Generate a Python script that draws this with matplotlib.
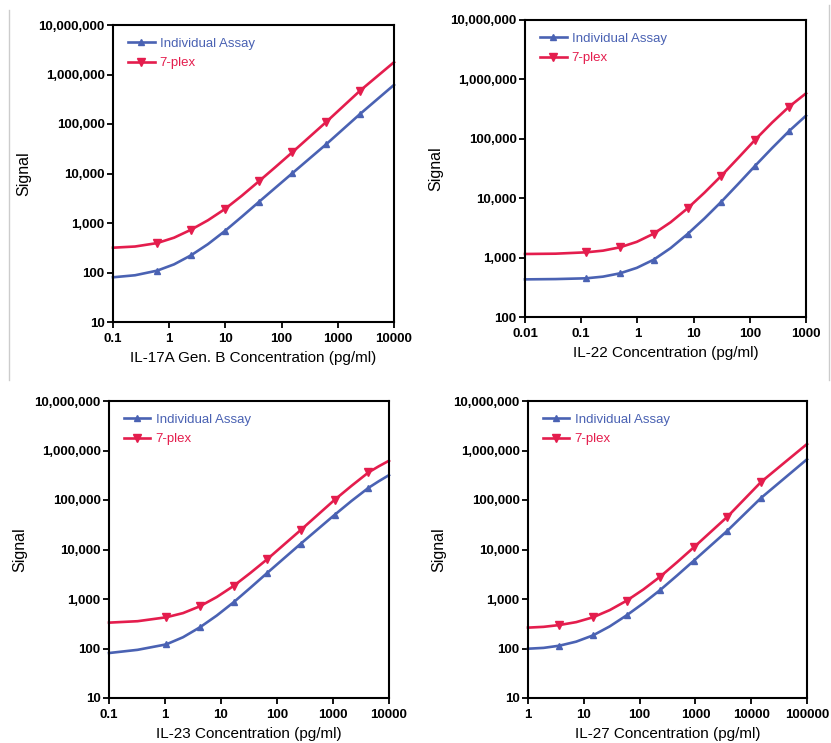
import matplotlib
matplotlib.use("Agg")
from matplotlib import pyplot as plt
from matplotlib.ticker import FuncFormatter, FixedLocator, NullLocator
from matplotlib.lines import Line2D

## values
# fitted curves
il17_cx      = [0.1, 0.247, 0.61, 1.22, 2.44, 4.89, 9.77, 19.5, 39.1, 78, 156, 625, 2500, 10000]
il17_single  = [80, 88, 109, 146, 222, 374, 687, 1334, 2643, 5180, 10170, 39150, 160000, 616000]
il17_plex    = [317, 335, 393, 505, 731, 1135, 1910, 3540, 6900, 13550, 27000, 110400, 473000, 1770000]
# measured points (markers)
il17_mx        = [0.61, 2.44, 9.77, 39.1, 156, 625, 2500]
il17_single_pt = [109, 222, 687, 2643, 10170, 39150, 160000]
il17_plex_pt   = [393, 731, 1910, 6900, 27000, 110400, 473000]

il22_cx      = [0.01, 0.035, 0.122, 0.244, 0.488, 0.976, 1.95, 3.9, 7.81, 15.6, 31.25, 62.5, 125, 250, 500, 1000]
il22_single  = [430, 435, 448, 478, 543, 672, 923, 1445, 2495, 4560, 8750, 17460, 35300, 70000, 135000, 245000]
il22_plex    = [1150, 1164, 1227, 1309, 1489, 1842, 2529, 3936, 6750, 12390, 23900, 47800, 96700, 188000, 347000, 582000]
il22_mx        = [0.122, 0.488, 1.95, 7.81, 31.25, 125, 500]
il22_single_pt = [448, 543, 923, 2495, 8750, 35300, 135000]
il22_plex_pt   = [1227, 1489, 2529, 6750, 23900, 96700, 347000]

il23_cx      = [0.1, 0.324, 1.05, 2.1, 4.2, 8.4, 16.8, 33.5, 67, 268, 1070, 2150, 4300, 6550, 10000]
il23_single  = [81, 94, 121, 169, 268, 463, 859, 1687, 3370, 13200, 50200, 96100, 176000, 239000, 318000]
il23_plex    = [333, 356, 427, 519, 713, 1096, 1837, 3365, 6370, 25000, 101000, 194000, 361000, 479000, 621000]
il23_mx        = [1.05, 4.2, 16.8, 67, 268, 1070, 4300]
il23_single_pt = [121, 268, 859, 3370, 13200, 50200, 176000]
il23_plex_pt   = [427, 713, 1837, 6370, 25000, 101000, 361000]

il27_cx      = [1, 1.91, 3.66, 7.3, 14.6, 29.2, 58.6, 117, 234, 469, 938, 3750, 15000, 38700, 100000]
il27_single  = [99, 103, 114, 137.5, 184, 280, 468, 823, 1520, 2982, 5950, 24000, 110000, 270000, 664000]
il27_plex    = [264, 274, 298, 341, 427, 597, 925, 1560, 2830, 5534, 11070, 46000, 231000, 559000, 1350000]
il27_mx        = [3.66, 14.6, 58.6, 234, 938, 3750, 15000]
il27_single_pt = [114, 184, 468, 1520, 5950, 24000, 110000]
il27_plex_pt   = [298, 427, 925, 2830, 11070, 46000, 231000]

x_labels = ["IL-17A Gen. B Concentration (pg/ml)", "IL-22 Concentration (pg/ml)",
            "IL-23 Concentration (pg/ml)", "IL-27 Concentration (pg/ml)"]
x_ranges = [(0.1, 10000), (0.01, 1000), (0.1, 10000), (1, 100000)]
y_ranges = [(10, 1e7), (100, 1e7), (10, 1e7), (10, 1e7)]
series_names = ["Individual Assay", "7-plex"]

blue = "#4a62b3"
red = "#e41d4d"

plt.rcParams["font.family"] = ["Liberation Sans", "DejaVu Sans"]

fig = plt.figure(figsize=(8.31, 7.43), dpi=100)

# axes boxes in pixels: left, top, right, bottom
boxes = [(113, 25, 394, 322), (525, 20, 806, 317), (109, 401, 389, 698), (528, 401, 807, 698)]
data = [(il17_cx, il17_single, il17_plex, il17_mx, il17_single_pt, il17_plex_pt),
        (il22_cx, il22_single, il22_plex, il22_mx, il22_single_pt, il22_plex_pt),
        (il23_cx, il23_single, il23_plex, il23_mx, il23_single_pt, il23_plex_pt),
        (il27_cx, il27_single, il27_plex, il27_mx, il27_single_pt, il27_plex_pt)]

W, H = 831, 743
for i in range(4):
    l, t, r, b = boxes[i]
    ax = fig.add_axes([l / W, (H - b) / H, (r - l) / W, (b - t) / H])
    cx, c_single, c_plex, mx, p_single, p_plex = data[i]

    ax.plot(cx, c_single, color=blue, lw=1.9, clip_on=False, solid_joinstyle="round")
    ax.plot(cx, c_plex, color=red, lw=1.9, clip_on=False, solid_joinstyle="round")
    ax.plot(mx, p_single, ls="none", color=blue, marker="^", ms=5)
    ax.plot(mx, p_plex, ls="none", color=red, marker="v", ms=5.5)

    ax.set_xscale("log")
    ax.set_yscale("log")
    ax.set_xlim(*x_ranges[i])
    ax.set_ylim(*y_ranges[i])

    lo, hi = x_ranges[i]
    xt = [lo * 10 ** k for k in range(20) if lo * 10 ** k <= hi * 1.001]
    ax.xaxis.set_major_locator(FixedLocator(xt))
    ax.xaxis.set_minor_locator(NullLocator())
    ax.xaxis.set_major_formatter(FuncFormatter(lambda v, p: f"{v:g}" if v < 1 else f"{int(round(v))}"))
    ylo, yhi = y_ranges[i]
    yt = [ylo * 10 ** k for k in range(20) if ylo * 10 ** k <= yhi * 1.001]
    ax.yaxis.set_major_locator(FixedLocator(yt))
    ax.yaxis.set_minor_locator(NullLocator())
    ax.yaxis.set_major_formatter(FuncFormatter(lambda v, p: f"{int(round(v)):,}"))

    ax.tick_params(direction="out", length=4, width=1.3, labelsize=9.5)
    ax.tick_params(axis="x", pad=4)
    ax.tick_params(axis="y", pad=2)
    for lab in ax.get_xticklabels() + ax.get_yticklabels():
        lab.set_fontweight("bold")
    for sp in ax.spines.values():
        sp.set_linewidth(1.5)

    ax.set_xlabel(x_labels[i], fontsize=11, labelpad=4)
    ax.set_ylabel("Signal", fontsize=11.5, labelpad=5)

    handles = [Line2D([], [], color=blue, lw=1.9, marker="^", ms=5),
               Line2D([], [], color=red, lw=1.9, marker="v", ms=5.5)]
    leg = ax.legend(handles, series_names, loc="upper left", bbox_to_anchor=(0.035, 0.975),
                    frameon=False, fontsize=9.5, handlelength=2.0, handletextpad=0.4,
                    labelspacing=0.55, borderaxespad=0)
    for txt, c in zip(leg.get_texts(), [blue, red]):
        txt.set_color(c)

# faint frame edges from the source image
fig.add_artist(Line2D([9 / W, 9 / W], [(H - 380) / H, (H - 10) / H], color="#cccccc", lw=1))
fig.add_artist(Line2D([829 / W, 829 / W], [(H - 380) / H, (H - 5) / H], color="#cccccc", lw=1))

plt.savefig("out.png", dpi=100)
